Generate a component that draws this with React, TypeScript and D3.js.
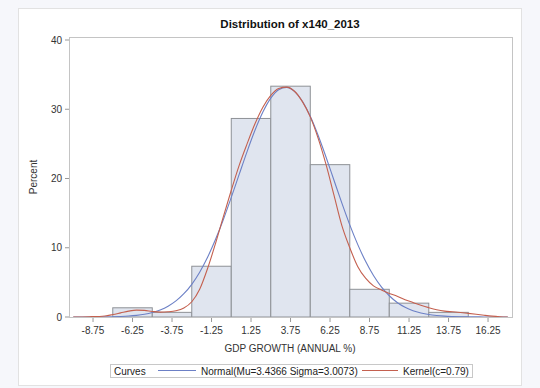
import * as d3 from "d3";

// bins: centre of each 2.5-wide bin and its percent
const binMids = [-6.25, -3.75, -1.25, 1.25, 3.75, 6.25, 8.75, 11.25, 13.75];
const binPct = [1.33, 0.67, 7.33, 28.67, 33.33, 22.0, 4.0, 2.0, 0.67];
const binWidth = 2.5;

const xTicks = [-8.75, -6.25, -3.75, -1.25, 1.25, 3.75, 6.25, 8.75, 11.25, 13.75, 16.25];
const yTicks = [0, 10, 20, 30, 40];

// fitted normal curve (Mu=3.4366 Sigma=3.0073), sampled values in percent
const normalX = [-10, -9, -8, -7, -6.5, -6, -5.5, -5, -4.5, -4, -3.5, -3, -2.5, -2, -1.5, -1, -0.5, 0, 0.5, 1, 1.5, 2, 2.5, 3, 3.5, 4, 4.5, 5, 5.5, 6, 6.5, 7, 7.5, 8, 8.5, 9, 9.5, 10, 10.5, 11, 11.5, 12, 12.5, 13, 13.5, 14, 15, 16, 17.5];
const normalY = [0.0, 0.01, 0.02, 0.08, 0.14, 0.24, 0.4, 0.65, 1.02, 1.56, 2.32, 3.36, 4.72, 6.47, 8.62, 11.18, 14.08, 17.27, 20.59, 23.89, 26.96, 29.59, 31.6, 32.82, 33.16, 32.59, 31.16, 28.98, 26.21, 23.07, 19.75, 16.44, 13.31, 10.49, 8.04, 5.99, 4.34, 3.07, 2.1, 1.4, 0.91, 0.58, 0.35, 0.21, 0.12, 0.07, 0.02, 0.01, 0.0];

// kernel density curve
const kernelX = [-10, -9, -8, -7.5, -7, -6.5, -6, -5.5, -5, -4.5, -4, -3.5, -3, -2.5, -2, -1.5, -1, -0.5, 0, 0.5, 1, 1.5, 2, 2.5, 3, 3.5, 4, 4.5, 5, 5.5, 6, 6.5, 7, 7.5, 8, 8.5, 9, 9.5, 10, 10.5, 11, 11.5, 12, 12.5, 13, 13.5, 14, 14.5, 15, 15.5, 16, 16.5, 17, 17.5];
const kernelY = [0.0, 0.04, 0.15, 0.35, 0.6, 0.85, 1.0, 0.95, 0.8, 0.7, 0.75, 0.9, 1.3, 2.2, 4.0, 7.0, 10.6, 14.5, 18.3, 21.9, 25.0, 27.9, 30.3, 32.0, 33.0, 33.2, 32.6, 31.1, 28.9, 25.8, 22.0, 17.6, 13.2, 10.0, 7.3, 5.6, 4.5, 3.9, 3.4, 3.0, 2.5, 2.1, 1.7, 1.35, 1.05, 0.85, 0.75, 0.65, 0.53, 0.4, 0.25, 0.12, 0.04, 0.0];

const font = "'Liberation Sans', Arial, sans-serif";
const blue = "#6c80c6";
const red = "#c4604f";

export default function App() {
  const width = 540;
  const height = 388;
  const left = 69, right = 513, top = 37, bottom = 317;

  const x = d3.scaleLinear([-10.27, 17.83], [left, right]);
  const y = d3.scaleLinear([0, 40], [bottom, 40]);

  const line = d3.line<[number, number]>()
    .x((d) => x(d[0]))
    .y((d) => y(d[1]))
    .curve(d3.curveMonotoneX);

  const normalPts = normalX.map((v, i) => [v, normalY[i]] as [number, number]);
  const kernelPts = kernelX.map((v, i) => [v, kernelY[i]] as [number, number]);

  return (
    <svg width={width} height={height} style={{ position: "absolute", left: 0, top: 0 }} fontFamily={font}>
      <rect width={width} height={height} fill="#f6f7fb" />
      <rect x={18.5} y={8.5} width={503} height={377} fill="#fff" stroke="#e2e2e2" />

      <text x={290} y={28} textAnchor="middle" fontSize={11.5} fontWeight="bold" fill="#111">
        Distribution of x140_2013
      </text>

      {/* bars */}
      <g fill="#e0e5ef" stroke="#8e9196" strokeWidth={1}>
        {binMids.map((m, i) => (
          <rect
            key={i}
            x={x(m - binWidth / 2)}
            y={y(binPct[i])}
            width={x(m + binWidth / 2) - x(m - binWidth / 2)}
            height={y(0) - y(binPct[i])}
          />
        ))}
      </g>

      <path d={line(normalPts) ?? undefined} fill="none" stroke={blue} strokeWidth={1.1} />
      <path d={line(kernelPts) ?? undefined} fill="none" stroke={red} strokeWidth={1.1} />

      {/* frame */}
      <rect x={left + 0.5} y={top + 0.5} width={right - left - 1} height={bottom - top} fill="none" stroke="#c4c4c4" />

      {/* y axis */}
      <g fontSize={10} fill="#333">
        {yTicks.map((t) => (
          <g key={t}>
            <line x1={left - 4} x2={left} y1={y(t)} y2={y(t)} stroke="#999" />
            <text x={left - 7} y={y(t) + 3.5} textAnchor="end">{t}</text>
          </g>
        ))}
      </g>
      <text transform={`translate(37,${(top + bottom) / 2}) rotate(-90)`} textAnchor="middle" fontSize={10} fill="#333">
        Percent
      </text>

      {/* x axis */}
      <g fontSize={10} fill="#333">
        {xTicks.map((t) => (
          <g key={t}>
            <line x1={x(t)} x2={x(t)} y1={bottom + 1} y2={bottom + 5} stroke="#999" />
            <text x={x(t)} y={334} textAnchor="middle">{t.toFixed(2)}</text>
          </g>
        ))}
      </g>
      <text x={290} y={352} textAnchor="middle" fontSize={10} fill="#333">
        GDP GROWTH (ANNUAL %)
      </text>

      {/* legend */}
      <rect x={110.5} y={364.5} width={362} height={13} fill="#fff" stroke="#c8c8c8" />
      <g fontSize={10} fill="#222">
        <text x={114} y={374.5}>Curves</text>
        <line x1={158} x2={196} y1={370.5} y2={370.5} stroke={blue} strokeWidth={1.1} />
        <text x={201} y={374.5}>Normal(Mu=3.4366 Sigma=3.0073)</text>
        <line x1={362} x2={398} y1={370.5} y2={370.5} stroke={red} strokeWidth={1.1} />
        <text x={403} y={374.5}>Kernel(c=0.79)</text>
      </g>
    </svg>
  );
}
